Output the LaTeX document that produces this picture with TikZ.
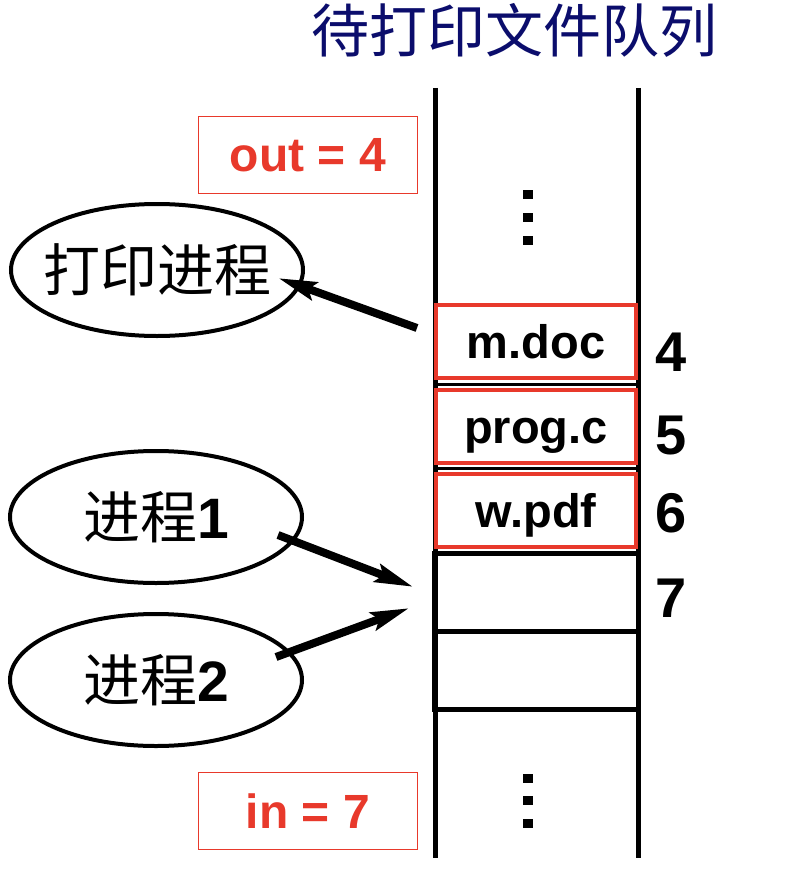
\documentclass[tikz,border=0pt]{standalone}
\usepackage{fontspec}
\setmainfont{Liberation Sans}
\newfontfamily\cjk{Noto Sans CJK SC}
\usetikzlibrary{arrows.meta,positioning,shapes.geometric}
\definecolor{qred}{HTML}{E8392B}
\definecolor{qnavy}{HTML}{0B0D6C}
\newcommand{\fsz}[1]{\fontsize{#1}{#1}\selectfont}

\begin{document}
\begin{tikzpicture}[x=1pt, y=-1pt,
  ttl/.style={text=qnavy, font=\fsz{58}\cjk},
  ptr/.style={draw=qred, line width=1.6pt, minimum width=219pt, minimum height=77pt,
    text=qred, font=\fsz{48}\bfseries},
  slot/.style={draw=qred, line width=4pt, fill=white, minimum width=200pt,
    minimum height=73pt, text height=34pt, text depth=0pt, font=\fsz{47}\bfseries},
  free/.style={draw=black, line width=5pt, minimum width=204pt, minimum height=78pt},
  idx/.style={font=\fsz{56}\bfseries},
  proc/.style={ellipse, draw, line width=4pt, minimum width=292pt, minimum height=132pt,
    inner sep=0pt},
  ptext/.style={font=\fsz{57}},
  rail/.style={line width=5pt},
  arr/.style={-{Stealth[length=38pt, width=18pt, inset=6pt]}, line width=8pt}
]
  \useasboundingbox (0,0) rectangle (804,872);

  \node[ttl] (title) at (514,30) {待打印文件队列};

  \draw[rail] (435,88) -- (435,858);
  \draw[rail] (638,88) -- (638,858);
  \draw[line width=3pt] (435,384) -- (638,384);
  \draw[line width=3pt] (435,468) -- (638,468);

  \node[slot] (c4) at (536,341) {m.doc};
  \node[slot] (c5) at (536,426) {prog.c};
  \node[slot] (c6) at (536,510) {w.pdf};
  \node[free] (c7) at (536,592) {};
  \node[free] (c8) at (536,670) {};

  \node[idx] (n4) at (671,352) {4};
  \node[idx] (n5) at (671,436) {5};
  \node[idx] (n6) at (671,513) {6};
  \node[idx] (n7) at (671,598) {7};

  \foreach \y in {194,217,240,778,800,823}
    \fill (523,\y-4.5) rectangle (533,\y+4.5);

  \node[ptr] (out) at (308,155) {out = 4};
  \node[ptr] (in)  at (308,811) {in = 7};

  \node[proc, label={[ptext]center:{\cjk 打印进程}}] (pr) at (157,270) {};
  \node[proc, label={[ptext]center:{\cjk 进程}\textbf{1}}] (p1) at (156,517) {};
  \node[proc, label={[ptext]center:{\cjk 进程}\textbf{2}}] (p2) at (156,680) {};

  \draw[arr] ([xshift=-17pt, yshift=13pt]c4.west) -- ([xshift=-27pt, yshift=-8pt]pr.east);
  \draw[arr] ([xshift=-26pt, yshift=-18pt]p1.east) -- ([xshift=-18pt, yshift=5pt]c7.west);
  \draw[arr] ([xshift=-28pt, yshift=23pt]p2.east) -- ([xshift=-22pt, yshift=-16pt]c7.west);
\end{tikzpicture}
\end{document}
